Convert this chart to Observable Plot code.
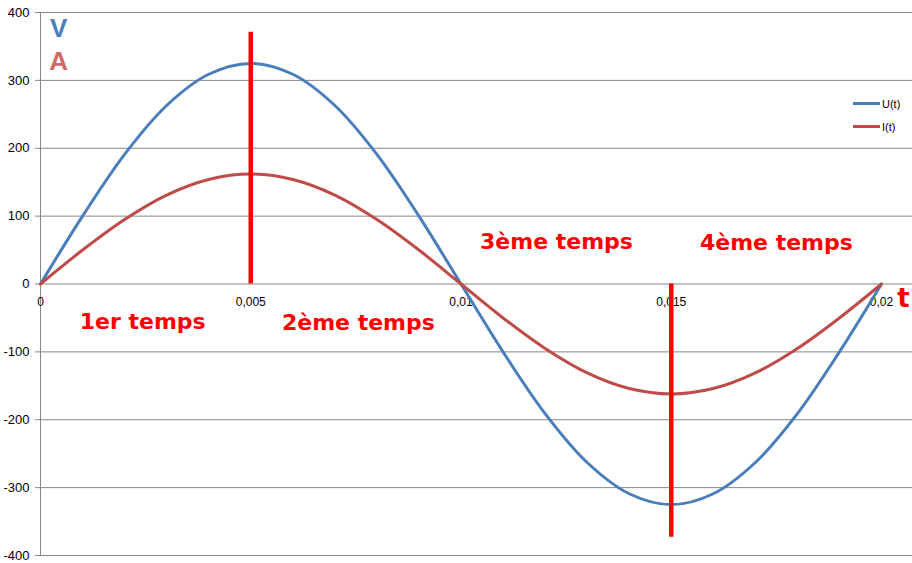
<!DOCTYPE html>
<html>
<head>
<meta charset="utf-8">
<script src="https://cdn.jsdelivr.net/npm/d3@7"></script>
<script src="https://cdn.jsdelivr.net/npm/@observablehq/plot@0.6"></script>
<style>
  html, body { margin: 0; padding: 0; background: #fff; }
  #wrap { position: relative; width: 912px; height: 563px; }
  #legend { position: absolute; left: 853px; top: 92px; font: 11px "Liberation Sans", Arial, sans-serif; color: #000; }
  .li { display: flex; align-items: center; height: 23px; }
  .sw { width: 27px; height: 3px; margin-right: 2px; }
</style>
</head>
<body>
<div id="wrap">
  <div id="chart"></div>
  <div id="legend"></div>
</div>
<script>
// Time samples (s)
const t = [0,0.001,0.002,0.003,0.004,0.005,0.006,0.007,0.008,0.009,0.01,0.011,0.012,0.013,0.014,0.015,0.016,0.017,0.018,0.019,0.02];
// U(t) in volts
const U = [0,100,191,263,309,325,309,263,191,100,0,-100,-191,-263,-309,-325,-309,-263,-191,-100,0];
// I(t)
const I = [0,50,95,131,154,162,154,131,95,50,0,-50,-95,-131,-154,-162,-154,-131,-95,-50,0];

const yTicks = [-400,-300,-200,-100,0,100,200,300,400];
const xTicks = [0,0.005,0.01,0.015,0.02];
const xTickLabels = ["0","0,005","0,01","0,015","0,02"];

// Phase markers
const markerT = [0.005, 0.015];
const markerEnd = [371, -373];

// Annotations
const annText = ["1er temps","2ème temps","3ème temps","4ème temps"];
const annT = [0.00243, 0.00756, 0.01227, 0.0175];
const annV = [-56, -57, 62, 61];

const seriesNames = ["U(t)","I(t)"];
const seriesColors = ["#4A7EBB","#BE4B48"];

const rows = [];
t.forEach((tt, i) => {
  rows.push({t: tt, v: U[i], s: seriesNames[0]});
  rows.push({t: tt, v: I[i], s: seriesNames[1]});
});
const markers = markerT.map((m, i) => ({t: m, v: markerEnd[i]}));
const ann = annText.map((s, i) => ({t: annT[i], v: annV[i], s}));

const xMax = 0.02 * 872 / 841;

const chart = Plot.plot({
  width: 912,
  height: 563,
  marginLeft: 40,
  marginRight: 0,
  marginTop: 12,
  marginBottom: 8,
  style: {background: "#fff", fontFamily: "'Liberation Sans', Arial, sans-serif", fontSize: "12px"},
  x: {domain: [0, xMax], axis: null},
  y: {domain: [-400, 400], axis: null},
  color: {domain: seriesNames, range: seriesColors},
  marks: [
    Plot.ruleY(yTicks, {stroke: "#868686", strokeWidth: 1}),
    Plot.ruleX([0], {y1: -400, y2: 400, stroke: "#868686"}),
    Plot.axisY({ticks: yTicks, tickSize: 5, tickPadding: 6, anchor: "left", label: null, tickFormat: d => String(d), fontSize: 13, stroke: "#868686", fill: "#000"}),
    Plot.text(xTicks, {x: d => d, y: 0, dy: 18, text: (d, i) => xTickLabels[i], fontSize: 12, fill: "#000"}),
    Plot.line(rows, {x: "t", y: "v", z: "s", stroke: "s", strokeWidth: 3, curve: "catmull-rom"}),
    Plot.ruleX(markers, {x: "t", y1: 0, y2: "v", stroke: "#FF0000", strokeWidth: 4.5}),
    Plot.text(ann, {x: "t", y: "v", text: "s", fill: "#FF0000", fontSize: 22, fontWeight: "bold", fontFamily: "'DejaVu Sans', sans-serif"}),
    Plot.text(["t"], {x: 0.02052, y: -21, text: d => d, fill: "#FF0000", fontSize: 26, fontWeight: "bold", fontFamily: "'DejaVu Sans', sans-serif"}),
    Plot.text(["V"], {x: 0.00043, y: 376, text: d => d, fill: "#4A7EBB", fontSize: 26, fontWeight: "bold", fontFamily: "'Liberation Sans', Arial, sans-serif"}),
    Plot.text(["A"], {x: 0.00043, y: 327, text: d => d, fill: "#D06A67", fontSize: 26, fontWeight: "bold", fontFamily: "'Liberation Sans', Arial, sans-serif"})
  ]
});
document.getElementById("chart").appendChild(chart);

const legend = document.getElementById("legend");
seriesNames.forEach((n, i) => {
  const row = document.createElement("div");
  row.className = "li";
  const sw = document.createElement("div");
  sw.className = "sw";
  sw.style.background = seriesColors[i];
  const lab = document.createElement("span");
  lab.textContent = n;
  row.appendChild(sw);
  row.appendChild(lab);
  legend.appendChild(row);
});
</script>
</body>
</html>
